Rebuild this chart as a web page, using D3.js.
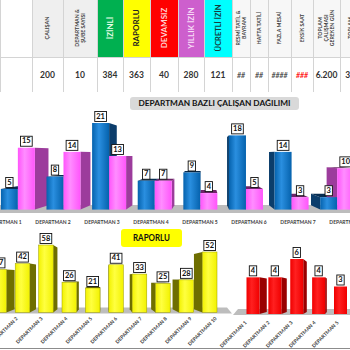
<!DOCTYPE html>
<html>
<head>
<meta charset="utf-8">
<script src="https://cdn.jsdelivr.net/npm/d3@7"></script>
<style>
  body { margin: 0; background: #fff; }
  svg { display: block; font-family: Lato, "Open Sans", sans-serif; }
</style>
</head>
<body>
<svg id="pano" width="350" height="350"></svg>
<script>
// ozet tablosu
const basliklar = ["", "ÇALIŞAN", "DEPARTMAN &\nŞUBE SAYISI", "İZİNLİ", "RAPORLU", "DEVAMSIZ", "YILLIK İZİN",
  "ÜCRETLİ İZİN", "RESMİ TATİL &\nBAYRAM", "HAFTA TATİLİ", "FAZLA MESAİ", "EKSİK SAAT",
  "TOPLAM\nÇALIŞMASI\nGEREKEN GÜN", "TOPLAM\nÇALIŞILAN\nGÜN"];
const degerler = ["", "200", "10", "384", "363", "40", "280", "121", "##", "##", "####", "###", "6.200", "3.600"];

// departman bazli calisan dagilimi
const departmanlar = ["DEPARTMAN 1", "DEPARTMAN 2", "DEPARTMAN 3", "DEPARTMAN 4",
  "DEPARTMAN 5", "DEPARTMAN 6", "DEPARTMAN 7", "DEPARTMAN 8"];
const calisanMavi = [5, 8, 21, 7, 9, 18, 14, 3];
const calisanPembe = [15, 14, 13, 7, 4, 5, 3, 10];

// raporlu
const raporluDepartman = ["DEPARTMAN 1", "DEPARTMAN 2", "DEPARTMAN 3", "DEPARTMAN 4", "DEPARTMAN 5",
  "DEPARTMAN 6", "DEPARTMAN 7", "DEPARTMAN 8", "DEPARTMAN 9", "DEPARTMAN 10"];
const raporlu = [37, 42, 58, 26, 21, 41, 33, 25, 28, 52];

// devamsiz
const devamsizDepartman = ["DEPARTMAN 1", "DEPARTMAN 2", "DEPARTMAN 3", "DEPARTMAN 4", "DEPARTMAN 5"];
const devamsiz = [4, 4, 6, 4, 3];

// stil
const kolonKenar = [0, 32, 63, 97, 123, 150, 178, 204, 232, 250, 268, 291, 313, 340, 372];
const baslikZemin = ["#ffffff", "#efefef", "#efefef", "#00b050", "#ffff00", "#ff0000", "#cd5fcd",
  "#00ffff", "#f7f7f7", "#f7f7f7", "#f7f7f7", "#f7f7f7", "#f7f7f7", "#f7f7f7"];
const baslikYaziRenk = ["#404040", "#404040", "#404040", "#e9ffe9", "#222", "#ffd6d6", "#f7dcf7",
  "#163c3c", "#404040", "#404040", "#404040", "#404040", "#404040", "#404040"];
const baslikBoyut = [5, 5.5, 5.2, 8, 8, 8, 8, 7.5, 5.2, 5.2, 5.2, 5.2, 5.2, 5.2];

const svg = d3.select("#pano");
const defs = svg.append("defs");

function gradyan(id, kenar, orta) {
  const lg = defs.append("linearGradient").attr("id", id)
    .attr("x1", "0").attr("x2", "1").attr("y1", "0").attr("y2", "0");
  lg.append("stop").attr("offset", "0%").attr("stop-color", kenar);
  lg.append("stop").attr("offset", "40%").attr("stop-color", orta);
  lg.append("stop").attr("offset", "100%").attr("stop-color", kenar);
}
gradyan("gMavi", "#0562ad", "#2a8fe0");
gradyan("gPembe", "#ff55fb", "#ff8dff");
gradyan("gSari", "#f2f200", "#ffff40");
gradyan("gKirmizi", "#f00000", "#ff2020");

const renkMavi = {on: "url(#gMavi)", yan: "#0b3d6b", ust: "#062d52"};
const renkPembe = {on: "url(#gPembe)", yan: "#9c3c9c", ust: "#6e2468"};
const renkSari = {on: "url(#gSari)", yan: "#6e6e00", ust: "#4f4f00"};
const renkKirmizi = {on: "url(#gKirmizi)", yan: "#990000", ust: "#700000"};

// ---- tablo ----
const tablo = svg.append("g");
basliklar.forEach((b, i) => {
  const x0 = kolonKenar[i], x1 = kolonKenar[i + 1], cx = (x0 + x1) / 2;
  tablo.append("rect").attr("x", x0).attr("y", 0).attr("width", x1 - x0).attr("height", 57)
    .attr("fill", baslikZemin[i]);
  const satirlar = b.split("\n");
  const lh = baslikBoyut[i] * 1.15;
  const t = tablo.append("text")
    .attr("transform", `translate(${cx},28) rotate(-90)`)
    .attr("text-anchor", "middle")
    .attr("font-size", baslikBoyut[i]).attr("font-weight", 700)
    .attr("fill", baslikYaziRenk[i]);
  satirlar.forEach((s, k) => {
    t.append("tspan").attr("x", 0)
      .attr("y", (k - (satirlar.length - 1) / 2) * lh + baslikBoyut[i] * 0.35)
      .text(s);
  });
  const d = degerler[i];
  const hash = d.startsWith("#");
  tablo.append("text").attr("x", cx).attr("y", 78)
    .attr("text-anchor", "middle")
    .attr("font-size", hash ? 7 : 8.5).attr("font-weight", 700)
    .attr("font-style", hash ? "italic" : "normal")
    .attr("fill", d === "###" ? "#ff2020" : (hash ? "#555" : "#333"))
    .text(d);
});
kolonKenar.forEach(x => {
  tablo.append("line").attr("x1", x + 0.5).attr("x2", x + 0.5).attr("y1", 0).attr("y2", 92)
    .attr("stroke", "#d4d4d4").attr("stroke-width", 1);
});
tablo.append("line").attr("x1", 0).attr("x2", 350).attr("y1", 57.5).attr("y2", 57.5)
  .attr("stroke", "#d4d4d4");

// ---- yardimcilar ----
function cubuk3d(arka, on, x0, x1, ust, taban, vp, f, renk) {
  const px = x => x + f * (vp[0] - x);
  const bt = ust + f * (vp[1] - ust), bb = taban + f * (vp[1] - taban);
  if (x1 < vp[0]) {
    arka.append("polygon").attr("points", [[x1, ust], [px(x1), bt], [px(x1), bb], [x1, taban]].join(" "))
      .attr("fill", renk.yan);
  }
  if (x0 > vp[0]) {
    arka.append("polygon").attr("points", [[x0, ust], [px(x0), bt], [px(x0), bb], [x0, taban]].join(" "))
      .attr("fill", renk.yan);
  }
  if (ust > vp[1]) {
    arka.append("polygon").attr("points", [[x0, ust], [x1, ust], [px(x1), bt], [px(x0), bt]].join(" "))
      .attr("fill", renk.ust);
  }
  on.append("rect").attr("x", x0).attr("y", ust).attr("width", x1 - x0).attr("height", taban - ust)
    .attr("fill", renk.on);
}

function etiket(g, cx, ust, deger) {
  const r = g.append("rect").attr("fill", "#fff").attr("stroke", "#111").attr("stroke-width", 0.9);
  const t = g.append("text").attr("x", cx).attr("y", ust - 4.3)
    .attr("text-anchor", "middle").attr("font-size", 7.5).attr("font-weight", 700)
    .attr("fill", "#111").text(deger);
  const w = t.node().getComputedTextLength() + 3;
  r.attr("x", cx - w / 2).attr("y", ust - 11.5).attr("width", w).attr("height", 10);
}

function baslikKutusu(x, y, w, h, zemin, yazi, boyut, uzunluk) {
  svg.append("rect").attr("x", x).attr("y", y).attr("width", w).attr("height", h)
    .attr("rx", 3).attr("fill", zemin);
  const t = svg.append("text").attr("x", x + w / 2).attr("y", y + h / 2 + boyut * 0.36)
    .attr("text-anchor", "middle").attr("font-size", boyut).attr("font-weight", 700)
    .attr("fill", "#111").text(yazi);
  if (uzunluk) t.attr("textLength", uzunluk).attr("lengthAdjust", "spacingAndGlyphs");
}

// ---- grafik 1: departman bazli calisan ----
const g1 = svg.append("g");
const vp1 = [205, 155], f1 = 0.08;
const x1Etiket = d3.scalePoint().domain(departmanlar).range([4, 347]);
const x1Cubuk = d => vp1[0] + 0.931 * (x1Etiket(d) - vp1[0]);
const y1 = d3.scaleLinear().domain([0, 21]).range([209.6, 123]);
const t1 = y1(0);
g1.append("polygon").attr("points", [[-10, t1 + 3.5], [360, t1 + 3.5], [360, t1 - 4.5], [-10, t1 - 4.5]].join(" "))
  .attr("fill", "#bdbdbd");
const arka1 = g1.append("g"), on1 = g1.append("g"), et1 = g1.append("g");
departmanlar.forEach((d, i) => {
  const c = x1Cubuk(d);
  cubuk3d(arka1, on1, c - 17, c, y1(calisanMavi[i]), t1, vp1, f1, renkMavi);
  cubuk3d(arka1, on1, c, c + 17, y1(calisanPembe[i]), t1, vp1, f1, renkPembe);
  etiket(et1, c - 8.5, y1(calisanMavi[i]), calisanMavi[i]);
  etiket(et1, c + 8.5, y1(calisanPembe[i]), calisanPembe[i]);
  g1.append("text").attr("x", x1Etiket(d)).attr("y", 223.5).attr("text-anchor", "middle")
    .attr("font-size", 5).attr("font-weight", 700).attr("fill", "#404040").text(d);
});
baslikKutusu(130, 97, 169, 13, "#d9d9d9", "DEPARTMAN BAZLI ÇALIŞAN DAĞILIMI", 7.5, 152);

// ---- grafik 2: raporlu ----
const g2 = svg.append("g");
const vp2 = [103, 275], f2 = 0.085;
const x2 = d3.scalePoint().domain(raporluDepartman).range([-0.9, 209.7]);
const x2Etiket = d3.scalePoint().domain(raporluDepartman).range([-6.8, 217]);
const y2 = d3.scaleLinear().domain([0, 58]).range([312.4, 245]);
const t2 = y2(0);
g2.append("polygon").attr("points", [[-10, t2 + 1], [232, t2 + 1], [227, t2 - 5], [-10, t2 - 5]].join(" "))
  .attr("fill", "#bdbdbd");
const arka2 = g2.append("g"), on2 = g2.append("g"), et2 = g2.append("g");
raporluDepartman.forEach((d, i) => {
  const c = x2(d);
  cubuk3d(arka2, on2, c - 7.3, c + 7.3, y2(raporlu[i]), t2, vp2, f2, renkSari);
  etiket(et2, c, y2(raporlu[i]), raporlu[i]);
  g2.append("text").attr("transform", `translate(${x2Etiket(d)},319) rotate(-45)`)
    .attr("text-anchor", "end").attr("font-size", 5).attr("font-weight", 700)
    .attr("fill", "#404040").text(d);
});
on2.selectAll("rect").attr("stroke", "#9a9a00").attr("stroke-width", 0.5);
baslikKutusu(121, 229, 61, 18, "#ffff00", "RAPORLU", 9, 37);

// ---- grafik 3: devamsiz ----
const g3 = svg.append("g");
const vp3 = [345, 290], f3 = 0.085;
const x3 = d3.scalePoint().domain(devamsizDepartman).range([253, 340.5]);
const x3Etiket = d3.scalePoint().domain(devamsizDepartman).range([247, 339]);
const y3 = d3.scaleLinear().domain([0, 6]).range([314, 259]);
const t3 = y3(0);
g3.append("polygon").attr("points", [[233, t3 + 1], [360, t3 + 1], [360, t3 - 5], [238, t3 - 5]].join(" "))
  .attr("fill", "#bdbdbd");
const arka3 = g3.append("g"), on3 = g3.append("g"), et3 = g3.append("g");
devamsizDepartman.forEach((d, i) => {
  const c = x3(d);
  cubuk3d(arka3, on3, c - 6.5, c + 6.5, y3(devamsiz[i]), t3, vp3, f3, renkKirmizi);
  etiket(et3, c, y3(devamsiz[i]), devamsiz[i]);
  g3.append("text").attr("transform", `translate(${x3Etiket(d)},323) rotate(-45)`)
    .attr("text-anchor", "end").attr("font-size", 5).attr("font-weight", 700)
    .attr("fill", "#404040").text(d);
});

svg.append("line").attr("x1", 0).attr("x2", 350).attr("y1", 348.5).attr("y2", 348.5)
  .attr("stroke", "#8c8c8c").attr("stroke-width", 1);
</script>
</body>
</html>
